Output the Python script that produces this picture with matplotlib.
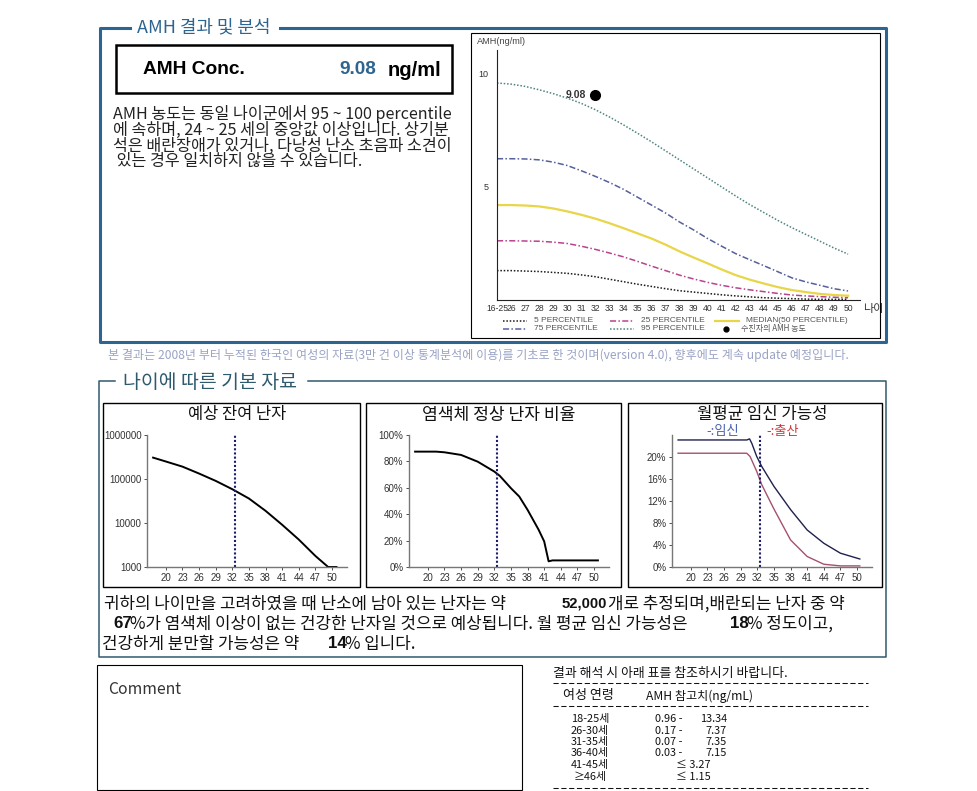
import matplotlib
matplotlib.use("Agg")
import matplotlib.pyplot as plt
from matplotlib.patches import Rectangle
from matplotlib.transforms import ScaledTranslation
import numpy as np

KR = ["Noto Sans CJK KR", "DejaVu Sans"]
AR = ["Liberation Sans", "DejaVu Sans"]

# --- AMH 백분위 곡선 (ng/ml) ---
pct_labels = ["16-25"] + [str(a) for a in range(26, 51)]
p95 = [9.6, 9.55, 9.45, 9.3, 9.13, 8.93, 8.7, 8.42, 8.1, 7.75, 7.38, 7.0, 6.6,
       6.2, 5.8, 5.4, 5.0, 4.6, 4.22, 3.87, 3.52, 3.2, 2.9, 2.6, 2.3, 2.03]
p75 = [6.25, 6.25, 6.24, 6.2, 6.1, 5.95, 5.72, 5.47, 5.2, 4.9, 4.55, 4.2, 3.85,
       3.45, 3.1, 2.72, 2.38, 2.05, 1.78, 1.52, 1.25, 0.98, 0.8, 0.65, 0.5, 0.4]
p50 = [4.2, 4.2, 4.18, 4.14, 4.05, 3.92, 3.77, 3.6, 3.4, 3.18, 2.95, 2.72, 2.45,
       2.15, 1.88, 1.62, 1.35, 1.1, 0.9, 0.73, 0.57, 0.44, 0.35, 0.27, 0.22, 0.19]
p25 = [2.62, 2.62, 2.61, 2.6, 2.56, 2.5, 2.38, 2.24, 2.08, 1.91, 1.71, 1.5, 1.3,
       1.1, 0.93, 0.78, 0.65, 0.54, 0.45, 0.37, 0.29, 0.22, 0.18, 0.15, 0.12, 0.1]
p5 = [1.3, 1.3, 1.28, 1.26, 1.22, 1.18, 1.11, 1.03, 0.92, 0.81, 0.7, 0.6, 0.5,
      0.41, 0.35, 0.29, 0.23, 0.18, 0.14, 0.1, 0.08, 0.06, 0.04, 0.03, 0.03, 0.03]
patient_label = "32"
patient_amh = 9.08

# --- 나이에 따른 기본 자료 ---
patient_age = 32.5
age_ticks = [20, 23, 26, 29, 32, 35, 38, 41, 44, 47, 50]
egg_age = [17.7, 20, 23, 26, 29, 32, 35, 38, 41, 44, 47, 49.3, 50.8]
egg_cnt = [306000, 250000, 191000, 133000, 90600, 58600, 36000, 18900, 9100,
           4200, 1780, 1000, 1000]
norm_age = [17.7, 21.5, 23, 26, 29, 32, 33, 35, 36.5, 38, 40, 41, 41.8, 42.5, 50.7]
norm_pct = [87.4, 87.4, 86.9, 84.9, 79.8, 72.3, 69, 59.7, 53.4, 43.3, 28.2, 19.4,
            4.3, 5, 5]
preg_age = [17.7, 30.1, 30.6, 31.0, 31.9, 32.8, 35, 38, 41, 44, 47, 50.5]
preg_pct = [23.0, 23.0, 23.2, 22.4, 20.0, 18.2, 14.6, 10.4, 6.7, 4.3, 2.5, 1.45]
birth_age = [17.7, 30.1, 30.7, 31.9, 32.8, 35, 38, 41, 44, 47, 50.5]
birth_pct = [20.6, 20.6, 20.0, 17.3, 14.9, 10.5, 4.9, 1.9, 0.5, 0.2, 0.2]

# --- 참고치 표 ---
ref_ages = ["18-25세", "26-30세", "31-35세", "36-40세", "41-45세", "≥46세"]
ref_low = ["0.96", "0.17", "0.07", "0.03", None, None]
ref_high = ["13.34", "7.37", "7.35", "7.15", "≤ 3.27", "≤ 1.15"]

W, H = 978, 791
fig = plt.figure(figsize=(W / 100, H / 100), dpi=100)
bg = fig.add_axes([0, 0, 1, 1])
bg.set_xlim(0, W)
bg.set_ylim(H, 0)
bg.axis("off")
renderer = fig.canvas.get_renderer()


def box(l, t, r, b):
    return [l / W, 1 - b / H, (r - l) / W, (b - t) / H]


def rect(l, t, r, b, color="black", lw=0.8):
    bg.add_patch(Rectangle((l, t), r - l, b - t, fill=False, ec=color, lw=lw))


def fit(x, y, s, w, **kw):
    # 글자 폭을 원본 폭에 맞춤
    kw.setdefault("family", KR)
    kw.setdefault("va", "center")
    t = bg.text(x, y, s, **kw)
    bw = t.get_window_extent(renderer).width
    t.set_fontsize(t.get_fontsize() * w / bw)
    return t


def txt(x, y, s, size, **kw):
    kw.setdefault("family", KR)
    kw.setdefault("va", "center")
    return bg.text(x, y, s, fontsize=size, **kw)


# ================= AMH 결과 및 분석 =================
BLUE = "#2d6590"
bg.plot([130, 100, 100, 886, 886, 280], [28, 28, 342, 342, 28, 28], color=BLUE, lw=2.2)
fit(137, 27, "AMH 결과 및 분석", 133, color=BLUE, fontsize=11)

rect(116, 45, 452, 93, lw=1.8)
fit(143, 70, "AMH Conc.", 102, family=AR, fontweight="bold", fontsize=14)
fit(339, 70, "9.08", 37, family=AR, fontweight="bold", color=BLUE, fontsize=14)
fit(388, 70, "ng/ml", 54, family=AR, fontweight="bold", fontsize=14)

t = fit(113, 114, "AMH 농도는 동일 나이군에서 95 ~ 100 percentile", 339, color="#222", fontsize=10)
fs = t.get_fontsize()
txt(113, 130, "에 속하며, 24 ~ 25 세의 중앙값 이상입니다. 상기분", fs, color="#222")
txt(113, 146, "석은 배란장애가 있거나, 다낭성 난소 초음파 소견이", fs, color="#222")
txt(113, 161, " 있는 경우 일치하지 않을 수 있습니다.", fs, color="#222")

# 백분위 곡선 차트
rect(471, 33, 880, 338, lw=0.8)
ax = fig.add_axes(box(497, 50, 860, 300))
ax.set_facecolor("none")
idx = np.arange(len(pct_labels))
st = {
    "p95": dict(color="#4f8480", ls=(0, (1, 1.2)), lw=1.1),
    "p75": dict(color="#55609c", ls=(0, (4, 1.5, 1, 1.5)), lw=1.1),
    "p50": dict(color="#e8d548", ls="-", lw=1.6),
    "p25": dict(color="#b8438e", ls=(0, (4, 1.5, 1, 1.5)), lw=1.1),
    "p5": dict(color="#1a1a1a", ls=(0, (1, 1.2)), lw=1.1),
}
ax.plot(idx, p95, **st["p95"])
ax.plot(idx, p75, **st["p75"])
ax.plot(idx, p50, **st["p50"])
ax.plot(idx, p25, **st["p25"])
ax.plot(idx, p5, **st["p5"])
pi = pct_labels.index(patient_label)
ax.plot([pi], [patient_amh], "o", color="black", ms=7)
ax.annotate(f"{patient_amh:.2f}", (pi, patient_amh), xytext=(-7, 0), textcoords="offset points",
            ha="right", va="center", fontsize=7.5, fontweight="bold", family=AR, color="#333")
ax.set_xlim(0, 25.85)
ax.set_ylim(0, 11.06)
ax.set_xticks(idx)
ax.set_xticklabels(pct_labels, fontsize=6.2, family=AR, color="#333")
first = ax.get_xticklabels()[0]
first.set_transform(first.get_transform() + ScaledTranslation(-5 / 100, 0, fig.dpi_scale_trans))
ax.set_yticks([5, 10])
ax.set_yticklabels(["5", "10"], fontsize=6.5, family=AR, color="#333")
ax.tick_params(axis="x", length=0, pad=3)
ax.tick_params(axis="y", length=0, pad=6)
for s in ["top", "right"]:
    ax.spines[s].set_visible(False)
for s in ["left", "bottom"]:
    ax.spines[s].set_color("#222")
    ax.spines[s].set_linewidth(0.8)
txt(863, 309, "나이", 8, color="#333")
fit(477, 42, "AMH(ng/ml)", 49, family=AR, color="#444", fontsize=6)

# 범례
leg_rows = [
    [(503, "p5", "5 PERCENTILE"), (610, "p25", "25 PERCENTILE"), (715, "p50", "MEDIAN(50 PERCENTILE)")],
    [(503, "p75", "75 PERCENTILE"), (610, "p95", "95 PERCENTILE")],
]
for ly, row in zip([320.5, 328.5], leg_rows):
    for lx, key, lab in row:
        bg.plot([lx, lx + 24], [ly, ly], **st[key])
        txt(lx + 31, ly, lab, 6.0, family=AR, color="#555")
bg.plot([726], [328.5], "o", color="black", ms=3.5)
txt(741, 328.5, "수진자의 AMH 농도", 5.8, color="#555")

fit(108, 355, "본 결과는 2008년 부터 누적된 한국인 여성의 자료(3만 건 이상 통계분석에 이용)를 기초로 한 것이며(version 4.0), 향후에도 계속 update 예정입니다.",
    740, color="#9aa3c6", fontsize=7)

# ================= 나이에 따른 기본 자료 =================
TEAL = "#2e5a6e"
bg.plot([115, 99, 99, 886, 886, 308], [381, 381, 657, 657, 381, 381], color=TEAL, lw=1.1)
fit(123, 383, "나이에 따른 기본 자료", 174, color=TEAL, fontsize=12)

frames = [(103, 403, 360, 587), (366, 403, 621, 587), (628, 403, 882, 587)]
plots = [(147, 435, 347, 567), (409, 435, 609, 567), (672, 435, 872, 567)]
for f in frames:
    rect(*f, lw=1.0)
axs = [fig.add_axes(box(*p)) for p in plots]

fit(237, 415, "예상 잔여 난자", 98, ha="center", color="#111", fontsize=11)
fit(499, 415, "염색체 정상 난자 비율", 153, ha="center", color="#111", fontsize=11)
fit(762, 414, "월평균 임신 가능성", 130, ha="center", color="#111", fontsize=11)
txt(706, 432, "-:임신", 9.5, color="#4a62b0")
txt(766, 432, "-:출산", 9.5, color="#c8383a")

a1, a2, a3 = axs
a1.plot(egg_age, egg_cnt, color="black", lw=1.4, clip_on=False)
a1.set_yscale("log")
a1.set_ylim(1000, 1000000)
a1.set_yticks([1000, 10000, 100000, 1000000])
a1.set_yticklabels(["1000", "10000", "100000", "1000000"])
a1.minorticks_off()

a2.plot(norm_age, norm_pct, color="black", lw=1.4)
a2.set_ylim(0, 100)
a2.set_yticks(range(0, 101, 20))
a2.set_yticklabels([f"{v}%" for v in range(0, 101, 20)])

a3.plot(preg_age, preg_pct, color="#20204e", lw=1.0)
a3.plot(birth_age, birth_pct, color="#a65070", lw=1.0)
a3.set_ylim(0, 23.9)
a3.set_yticks(range(0, 21, 4))
a3.set_yticklabels([f"{v}%" for v in range(0, 21, 4)])

for a in axs:
    a.set_facecolor("none")
    a.axvline(patient_age, color="#1c1c70", ls=(0, (1, 1)), lw=1.5)
    a.set_xlim(16.6, 52.7)
    a.set_xticks(age_ticks)
    a.tick_params(labelsize=7, colors="#333", length=2, width=0.6, pad=2)
    for lab in a.get_xticklabels() + a.get_yticklabels():
        lab.set_family(AR)
    for s in ["top", "right"]:
        a.spines[s].set_visible(False)
    for s in ["left", "bottom"]:
        a.spines[s].set_color("#777")
        a.spines[s].set_linewidth(1.0)

# 요약 문장
t = fit(104, 604, "귀하의 나이만을 고려하였을 때 난소에 남아 있는 난자는 약", 401, color="#111", fontsize=11)
fs = t.get_fontsize()
bold = dict(family=AR, fontweight="bold", color="#111")
txt(562, 604, "52,000", fs * 0.88, **bold)
txt(608, 604, "개로 추정되며,배란되는 난자 중 약", fs, color="#111")
txt(113, 624, "67", fs, **bold)
txt(130, 624, "%가 염색체 이상이 없는 건강한 난자일 것으로 예상됩니다. 월 평균 임신 가능성은", fs, color="#111")
txt(730, 624, "18", fs, **bold)
txt(747, 624, "% 정도이고,", fs, color="#111")
txt(102, 644, "건강하게 분만할 가능성은 약", fs, color="#111")
txt(328, 644, "14", fs, **bold)
txt(345, 644, "% 입니다.", fs, color="#111")

# ================= Comment / 참고표 =================
rect(97, 665, 522, 790, lw=0.8)
fit(108, 690, "Comment", 73, color="#333", fontsize=10)

fit(553, 674, "결과 해석 시 아래 표를 참조하시기 바랍니다.", 235, color="#111", fontsize=8)
dash = dict(color="#111", lw=0.75, ls=(0, (5, 2.5)))
for y in [683, 706, 788]:
    bg.plot([553, 868], [y, y], **dash)
fit(563, 696, "여성 연령", 51, color="#111", fontsize=8)
fit(646, 696, "AMH 참고치(ng/mL)", 107, color="#111", fontsize=8)

row_y = [719, 731, 742, 753, 765, 777]
fs = fit(571, row_y[0], ref_ages[0], 38, color="#111", fontsize=8).get_fontsize()
for y, a in zip(row_y[1:], ref_ages[1:]):
    txt(590, y, a, fs, ha="center", color="#111")
for y, lo, hi in zip(row_y, ref_low, ref_high):
    if lo is None:
        txt(693, y, hi, fs, ha="center", color="#111")
    else:
        txt(655, y, lo + " -", fs, color="#111")
        txt(727, y, hi, fs, ha="right", color="#111")

fig.savefig("out.png", dpi=100)
